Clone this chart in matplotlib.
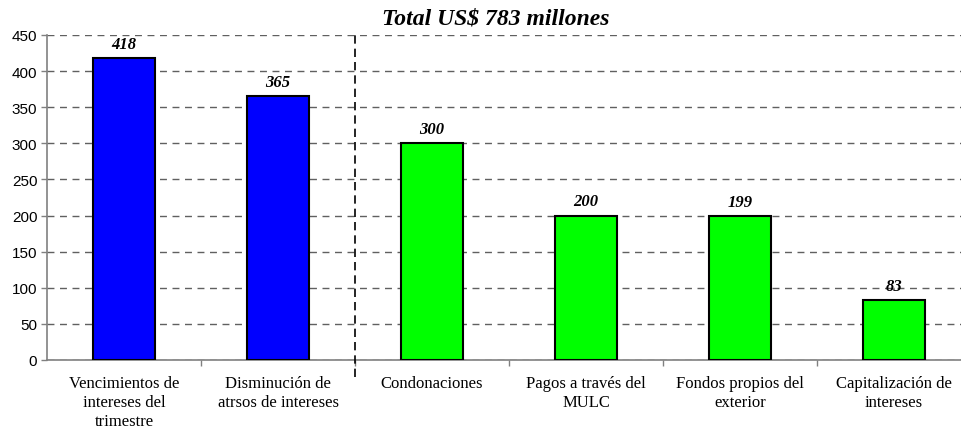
import matplotlib
matplotlib.use("Agg")
import matplotlib.pyplot as plt

categories = [
    "Vencimientos de\nintereses del\ntrimestre",
    "Disminución de\natrsos de intereses",
    "Condonaciones",
    "Pagos a través del\nMULC",
    "Fondos propios del\nexterior",
    "Capitalización de\nintereses",
]
values = [418, 365, 300, 200, 199, 83]
colors = ["#0000FF", "#0000FF", "#00FF00", "#00FF00", "#00FF00", "#00FF00"]
yticks = list(range(0, 451, 50))
title = "Total US$ 783 millones"

fig = plt.figure(figsize=(9.61, 4.31), dpi=100)
ax = fig.add_axes([47 / 961, 1 - 361 / 431, 924 / 961, 325 / 431])

x = list(range(len(categories)))
ax.bar(x, values, width=0.40, color=colors, edgecolor="black", linewidth=1.5, zorder=3)

ax.set_xlim(-0.5, len(categories) - 0.5)
ax.set_ylim(0, 450)
ax.set_yticks(yticks)
ax.set_yticklabels([str(t) for t in yticks], fontsize=11, family="Liberation Sans")

# category boundaries as ticks, labels centred under each bar
ax.set_xticks([i + 0.5 for i in x[:-1]])
ax.set_xticklabels([])
ax.tick_params(axis="x", length=4, color="#808080", width=1)
ax.tick_params(axis="y", length=4, color="#808080", width=1, pad=3)
for i, lab in enumerate(categories):
    ax.annotate(lab, (i, 0), xytext=(0, -11), textcoords="offset points",
                ha="center", va="top", fontsize=12, family="Liberation Serif",
                linespacing=1.22, annotation_clip=False)

ax.grid(axis="y", linestyle=(0, (5, 4)), color="#606060", linewidth=1, zorder=0)
for s in ["top", "right"]:
    ax.spines[s].set_visible(False)
for s in ["left", "bottom"]:
    ax.spines[s].set_color("#808080")
    ax.spines[s].set_linewidth(1.2)

# divider between the two groups
ax.plot([1.5, 1.5], [-24, 450], color="black", linestyle=(0, (5, 3)), linewidth=1.2,
        clip_on=False, zorder=4)

for i, v in enumerate(values):
    ax.annotate(str(v), (i, v), xytext=(0, 4.5), textcoords="offset points",
                ha="center", va="bottom", fontsize=12, family="Liberation Serif",
                fontweight="bold", fontstyle="italic")

fig.text(496 / 961, 1 - 19 / 431, title, ha="center", va="center", fontsize=17,
         family="Liberation Serif", fontweight="bold", fontstyle="italic")

fig.savefig("out.png", dpi=100)
